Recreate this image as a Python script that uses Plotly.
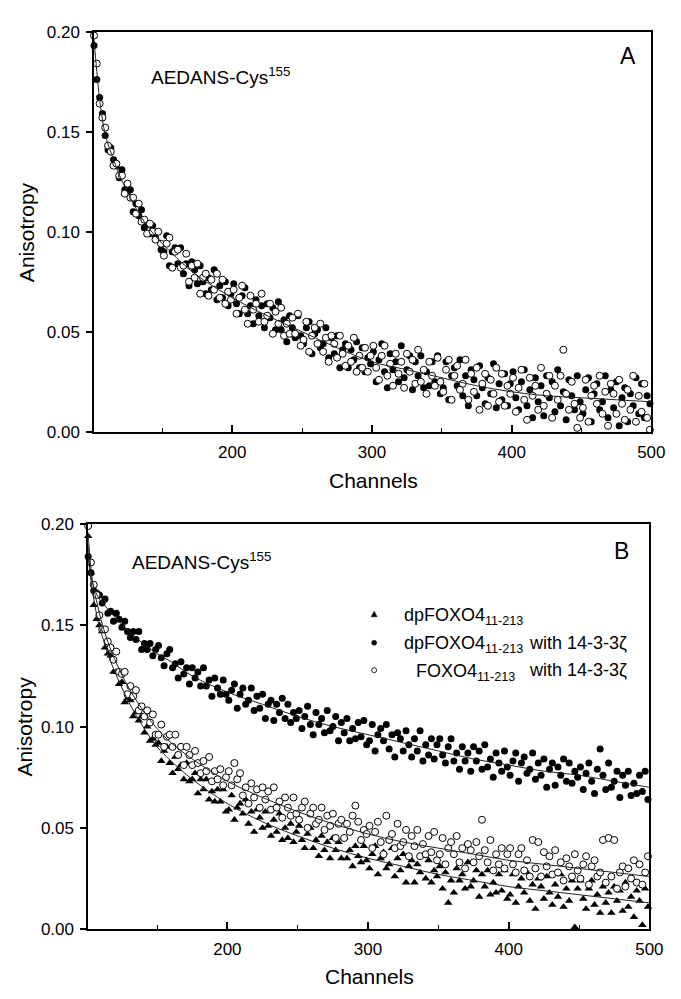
import plotly.graph_objects as go

# ---------------- data ----------------
channels = list(range(101, 500, 2))  # channel numbers 101..499

# Panel A : AEDANS-Cys155
a_filled = [
0.193,0.176,0.167,0.159,0.148,0.141,0.142,0.136,0.133,0.127,0.131,0.121,0.120,0.121,0.110,0.114,0.108,0.111,0.102,0.104,0.099,0.103,0.097,0.100,0.091,
0.090,0.098,0.083,0.090,0.092,0.084,0.092,0.079,0.084,0.073,0.085,0.081,0.074,0.083,0.075,0.069,0.077,0.071,0.081,0.066,0.073,0.067,0.075,0.063,0.069,
0.074,0.064,0.059,0.068,0.072,0.059,0.063,0.054,0.066,0.058,0.063,0.052,0.064,0.057,0.062,0.051,0.065,0.051,0.056,0.045,0.058,0.052,0.047,0.058,0.048,
0.044,0.052,0.055,0.039,0.049,0.051,0.042,0.044,0.052,0.037,0.047,0.039,0.048,0.032,0.041,0.044,0.032,0.041,0.036,0.045,0.032,0.042,0.030,0.037,0.034,
0.040,0.025,0.036,0.044,0.030,0.022,0.039,0.031,0.035,0.025,0.043,0.027,0.031,0.038,0.021,0.035,0.028,0.038,0.022,0.030,0.023,0.035,0.025,0.038,0.019,
0.022,0.035,0.016,0.028,0.032,0.023,0.036,0.018,0.028,0.013,0.031,0.026,0.018,0.033,0.022,0.014,0.027,0.019,0.034,0.012,0.024,0.016,0.029,0.013,0.024,
0.030,0.017,0.011,0.025,0.031,0.013,0.021,0.007,0.027,0.015,0.023,0.008,0.028,0.017,0.025,0.010,0.031,0.013,0.020,0.006,0.026,0.018,0.011,0.028,0.015,
0.009,0.021,0.027,0.005,0.019,0.024,0.011,0.015,0.028,0.007,0.021,0.012,0.025,0.003,0.017,0.022,0.005,0.019,0.013,0.027,0.009,0.024,0.007,0.018,0.014,
]
a_open = [
0.198,0.184,0.164,0.157,0.152,0.143,0.140,0.133,0.134,0.128,0.128,0.119,0.124,0.117,0.117,0.109,0.114,0.105,0.106,0.099,0.104,0.100,0.096,0.100,0.094,
0.088,0.094,0.097,0.082,0.090,0.091,0.082,0.083,0.089,0.075,0.083,0.077,0.084,0.069,0.077,0.079,0.068,0.076,0.071,0.079,0.067,0.076,0.064,0.070,0.066,
0.071,0.059,0.067,0.073,0.061,0.054,0.068,0.061,0.064,0.055,0.069,0.055,0.058,0.064,0.049,0.060,0.054,0.062,0.048,0.054,0.049,0.057,0.049,0.059,0.043,
0.046,0.055,0.040,0.048,0.052,0.044,0.054,0.040,0.047,0.035,0.048,0.044,0.037,0.048,0.039,0.033,0.043,0.035,0.047,0.030,0.038,0.032,0.042,0.030,0.038,
0.043,0.032,0.026,0.038,0.043,0.028,0.034,0.023,0.039,0.029,0.035,0.022,0.039,0.030,0.036,0.024,0.041,0.025,0.031,0.019,0.035,0.028,0.023,0.037,0.025,
0.020,0.031,0.036,0.016,0.028,0.033,0.021,0.024,0.036,0.016,0.029,0.020,0.032,0.011,0.024,0.029,0.013,0.026,0.019,0.032,0.015,0.029,0.013,0.023,0.019,
0.027,0.010,0.022,0.031,0.016,0.006,0.027,0.018,0.023,0.011,0.032,0.013,0.019,0.028,0.007,0.023,0.016,0.028,0.041,0.019,0.011,0.025,0.014,0.002,0.007,
0.012,0.026,0.005,0.018,0.023,0.014,0.028,0.009,0.020,0.003,0.024,0.019,0.009,0.026,0.014,0.006,0.021,0.011,0.028,0.005,0.018,0.010,0.024,0.007,0.001,
]

# Panel B
b_tri = [  # dpFOXO4 11-213
0.194,0.176,0.160,0.153,0.150,0.147,0.139,0.136,0.135,0.127,0.127,0.121,0.122,0.112,0.114,0.113,0.105,0.107,0.103,0.105,0.097,0.100,0.093,0.094,0.091,
0.092,0.083,0.088,0.090,0.082,0.077,0.085,0.079,0.081,0.074,0.082,0.073,0.074,0.077,0.067,0.074,0.069,0.074,0.064,0.068,0.063,0.069,0.063,0.069,0.058,
0.059,0.066,0.054,0.060,0.062,0.057,0.064,0.052,0.058,0.048,0.059,0.055,0.050,0.058,0.051,0.046,0.054,0.048,0.057,0.044,0.050,0.045,0.052,0.043,0.048,
0.051,0.044,0.040,0.047,0.050,0.040,0.044,0.036,0.046,0.039,0.043,0.035,0.045,0.039,0.043,0.035,0.045,0.035,0.039,0.031,0.041,0.036,0.033,0.041,0.034,
0.030,0.037,0.041,0.027,0.035,0.038,0.030,0.032,0.040,0.026,0.035,0.029,0.037,0.023,0.031,0.034,0.023,0.032,0.028,0.036,0.025,0.034,0.023,0.029,0.026,
0.031,0.020,0.028,0.013,0.024,0.018,0.030,0.024,0.027,0.020,0.033,0.021,0.024,0.029,0.016,0.027,0.021,0.029,0.017,0.023,0.018,0.027,0.019,0.029,0.015,
0.017,0.027,0.013,0.021,0.025,0.018,0.028,0.014,0.022,0.010,0.025,0.021,0.015,0.026,0.018,0.012,0.022,0.016,0.027,0.011,0.020,0.014,0.024,0.001,0.020,
0.024,0.015,0.010,0.020,0.024,0.012,0.017,0.008,0.021,0.013,0.018,0.008,0.021,0.014,0.019,0.009,0.023,0.011,0.016,0.006,0.019,0.014,0.002,0.020,0.011,
]
b_filled = [  # dpFOXO4 11-213 with 14-3-3 zeta
0.184,0.176,0.167,0.166,0.165,0.161,0.163,0.156,0.157,0.152,0.156,0.153,0.149,0.152,0.147,0.144,0.147,0.143,0.147,0.138,0.141,0.138,0.141,0.135,0.138,
0.140,0.134,0.130,0.136,0.138,0.129,0.131,0.124,0.132,0.126,0.129,0.121,0.129,0.124,0.127,0.120,0.129,0.120,0.123,0.115,0.124,0.119,0.116,0.123,0.116,
0.113,0.118,0.121,0.109,0.116,0.119,0.111,0.113,0.119,0.108,0.115,0.109,0.116,0.104,0.111,0.113,0.103,0.111,0.107,0.114,0.104,0.111,0.102,0.107,0.104,
0.108,0.099,0.105,0.110,0.101,0.096,0.107,0.101,0.104,0.097,0.108,0.098,0.100,0.105,0.093,0.102,0.097,0.104,0.093,0.099,0.094,0.102,0.095,0.103,0.091,
0.093,0.101,0.088,0.096,0.099,0.093,0.101,0.089,0.096,0.085,0.097,0.094,0.088,0.098,0.091,0.085,0.094,0.088,0.098,0.083,0.091,0.086,0.094,0.084,0.091,
0.094,0.086,0.082,0.090,0.094,0.083,0.087,0.079,0.090,0.083,0.087,0.078,0.090,0.083,0.088,0.079,0.091,0.080,0.084,0.075,0.087,0.082,0.078,0.088,0.080,
0.076,0.083,0.087,0.073,0.082,0.085,0.077,0.079,0.087,0.074,0.082,0.076,0.084,0.070,0.079,0.082,0.071,0.080,0.076,0.084,0.073,0.082,0.072,0.078,0.075,
0.080,0.069,0.077,0.082,0.073,0.067,0.079,0.089,0.076,0.069,0.082,0.070,0.073,0.078,0.065,0.076,0.071,0.078,0.066,0.072,0.067,0.076,0.068,0.078,0.064,
]
b_open = [  # FOXO4 11-213 with 14-3-3 zeta
0.199,0.181,0.170,0.165,0.155,0.148,0.148,0.142,0.139,0.133,0.137,0.127,0.126,0.127,0.116,0.120,0.115,0.118,0.108,0.110,0.105,0.108,0.102,0.106,0.096,
0.096,0.101,0.090,0.095,0.096,0.090,0.096,0.086,0.090,0.081,0.090,0.086,0.081,0.088,0.082,0.077,0.083,0.078,0.085,0.073,0.078,0.074,0.079,0.071,0.075,
0.078,0.071,0.082,0.074,0.077,0.066,0.070,0.062,0.072,0.065,0.069,0.060,0.070,0.064,0.068,0.059,0.070,0.060,0.063,0.055,0.065,0.060,0.056,0.065,0.057,
0.054,0.060,0.063,0.050,0.057,0.060,0.052,0.054,0.060,0.049,0.056,0.051,0.057,0.045,0.052,0.054,0.045,0.052,0.048,0.056,0.061,0.053,0.044,0.049,0.047,
0.051,0.040,0.048,0.053,0.043,0.037,0.056,0.044,0.047,0.040,0.052,0.041,0.043,0.049,0.036,0.046,0.041,0.049,0.036,0.042,0.037,0.046,0.038,0.048,0.034,
0.037,0.045,0.032,0.040,0.043,0.037,0.046,0.033,0.040,0.030,0.042,0.039,0.033,0.043,0.036,0.054,0.039,0.033,0.044,0.029,0.037,0.032,0.040,0.030,0.037,
0.040,0.032,0.028,0.037,0.040,0.029,0.034,0.026,0.044,0.030,0.043,0.026,0.038,0.031,0.036,0.027,0.039,0.028,0.033,0.024,0.035,0.031,0.026,0.037,0.029,
0.025,0.032,0.036,0.022,0.031,0.034,0.026,0.028,0.044,0.023,0.045,0.026,0.044,0.020,0.028,0.031,0.021,0.030,0.025,0.034,0.023,0.032,0.022,0.028,0.036,
]

# fitted curves
fit_channels = [101,103,105,108,110,115,120,130,140,150,160,175,200,225,250,275,300,325,350,375,400,425,450,475,500]
fit_a        = [0.196,0.180,0.166,0.152,0.146,0.136,0.127,0.113,0.102,0.094,0.087,0.078,0.067,0.058,0.050,0.042,0.035,0.031,0.027,0.023,0.020,0.018,0.017,0.016,0.015]
fit_b_tri    = [0.190,0.172,0.163,0.152,0.147,0.136,0.127,0.112,0.100,0.090,0.083,0.074,0.062,0.053,0.046,0.040,0.035,0.031,0.027,0.024,0.021,0.019,0.017,0.015,0.013]
fit_b_filled = [0.183,0.174,0.169,0.164,0.162,0.158,0.154,0.147,0.141,0.136,0.132,0.125,0.117,0.111,0.105,0.100,0.096,0.092,0.088,0.084,0.081,0.078,0.076,0.073,0.070]
fit_b_open   = [0.195,0.178,0.168,0.159,0.153,0.142,0.133,0.119,0.108,0.099,0.092,0.084,0.073,0.065,0.058,0.052,0.047,0.043,0.040,0.037,0.034,0.032,0.030,0.028,0.026]

y_ticks = [0.00, 0.05, 0.10, 0.15, 0.20]
x_ticks = [200, 300, 400, 500]
x_minor = [150, 250, 350, 450]

# ---------------- figure ----------------
W, H = 681, 999
FONT = "Arial, 'Liberation Sans', sans-serif"

def px(x):
    return x / W

def py(y):
    return 1 - y / H

fig = go.Figure()

def pts(x, y, xa, ya, symbol, fill, size=7):
    n = min(len(x), len(y))
    fig.add_trace(go.Scatter(
        x=x[:n], y=y[:n], xaxis=xa, yaxis=ya, mode="markers", cliponaxis=False,
        marker=dict(symbol=symbol, size=size, color=fill,
                    line=dict(color="black", width=1 if fill == "white" else 0)),
        showlegend=False, hoverinfo="skip"))

def fitline(y, xa, ya):
    fig.add_trace(go.Scatter(
        x=fit_channels, y=y, xaxis=xa, yaxis=ya, mode="lines",
        line=dict(color="#222", width=1, shape="spline"),
        showlegend=False, hoverinfo="skip"))

# panel A
pts(channels, a_filled, "x", "y", "circle", "black", 7)
pts(channels, a_open, "x", "y", "circle", "white", 7)
fitline(fit_a, "x", "y")

# panel B
pts(channels, b_tri, "x2", "y2", "triangle-up", "black", 7.5)
pts(channels, b_filled, "x2", "y2", "circle", "black", 7)
pts(channels, b_open, "x2", "y2", "circle", "white", 7)
fitline(fit_b_tri, "x2", "y2")
fitline(fit_b_filled, "x2", "y2")
fitline(fit_b_open, "x2", "y2")

def xaxis(domain, anchor):
    return dict(domain=domain, anchor=anchor, range=[101, 500],
                tickmode="array", tickvals=x_ticks, ticks="inside", ticklen=7,
                tickwidth=1.5, tickcolor="black", ticklabelstandoff=4,
                minor=dict(tickmode="array", tickvals=x_minor, ticks="inside",
                           ticklen=4, tickwidth=1, tickcolor="black"),
                showline=True, linecolor="black", linewidth=1.5, mirror=True,
                showgrid=False, zeroline=False,
                tickfont=dict(family=FONT, size=17, color="black"))

def yaxis(domain, anchor):
    return dict(domain=domain, anchor=anchor, range=[0, 0.20],
                tickmode="array", tickvals=y_ticks, tickformat=".2f",
                ticks="outside", ticklen=6, tickwidth=1.5, tickcolor="black",
                ticklabelstandoff=3,
                showline=True, linecolor="black", linewidth=1.5, mirror=True,
                showgrid=False, zeroline=False,
                tickfont=dict(family=FONT, size=17, color="black"))

fig.update_layout(
    width=W, height=H, margin=dict(l=0, r=0, t=0, b=0),
    paper_bgcolor="white", plot_bgcolor="white",
    font=dict(family=FONT, color="black"),
    xaxis=xaxis([px(96), px(665)], "y"),
    yaxis=yaxis([py(431), py(23)], "x"),
    xaxis2=xaxis([px(90), px(663)], "y2"),
    yaxis2=yaxis([py(938), py(525)], "x2"),
)

ann = []
def text(x, y, s, size, xanchor="center", angle=0):
    ann.append(dict(x=px(x), y=py(y), xref="paper", yref="paper", text=s,
                    showarrow=False, xanchor=xanchor, yanchor="middle",
                    textangle=angle, font=dict(family=FONT, size=size, color="black")))

# axis titles
text(27, 227, "Anisotropy", 21, angle=-90)
text(381, 481, "Channels", 21)
text(25, 731, "Anisotropy", 21, angle=-90)
text(377, 986, "Channels", 21)
# panel labels
text(641, 48, "A", 23)
text(635, 552, "B", 23)
# sample labels
text(152, 68, "AEDANS-Cys<sup>155</sup>", 19, xanchor="left")
text(133, 563, "AEDANS-Cys<sup>155</sup>", 19, xanchor="left")
# legend text
text(410, 619, "dpFOXO4<sub>11-213</sub>", 18, xanchor="left")
text(410, 648, "dpFOXO4<sub>11-213</sub>", 18, xanchor="left")
text(538, 646, "with 14-3-3ζ", 18, xanchor="left")
text(528, 676, "FOXO4<sub>11-213</sub>", 18, xanchor="right")
text(538, 674, "with 14-3-3ζ", 18, xanchor="left")
fig.update_layout(annotations=ann)

# legend symbols
shapes = []
lx = px(382)
shapes.append(dict(type="path", xref="paper", yref="paper", xsizemode="pixel", ysizemode="pixel",
                   xanchor=lx, yanchor=py(617), path="M -3,-2.5 L 3,-2.5 L 0,3 Z",
                   fillcolor="black", line=dict(color="black", width=0.5)))
shapes.append(dict(type="circle", xref="paper", yref="paper", xsizemode="pixel", ysizemode="pixel",
                   xanchor=lx, yanchor=py(646), x0=-2.5, x1=2.5, y0=-2.5, y1=2.5,
                   fillcolor="black", line=dict(color="black", width=0.5)))
shapes.append(dict(type="circle", xref="paper", yref="paper", xsizemode="pixel", ysizemode="pixel",
                   xanchor=lx, yanchor=py(674), x0=-2.5, x1=2.5, y0=-2.5, y1=2.5,
                   fillcolor="white", line=dict(color="black", width=0.8)))
fig.update_layout(shapes=shapes)

fig.write_html("out.html")
